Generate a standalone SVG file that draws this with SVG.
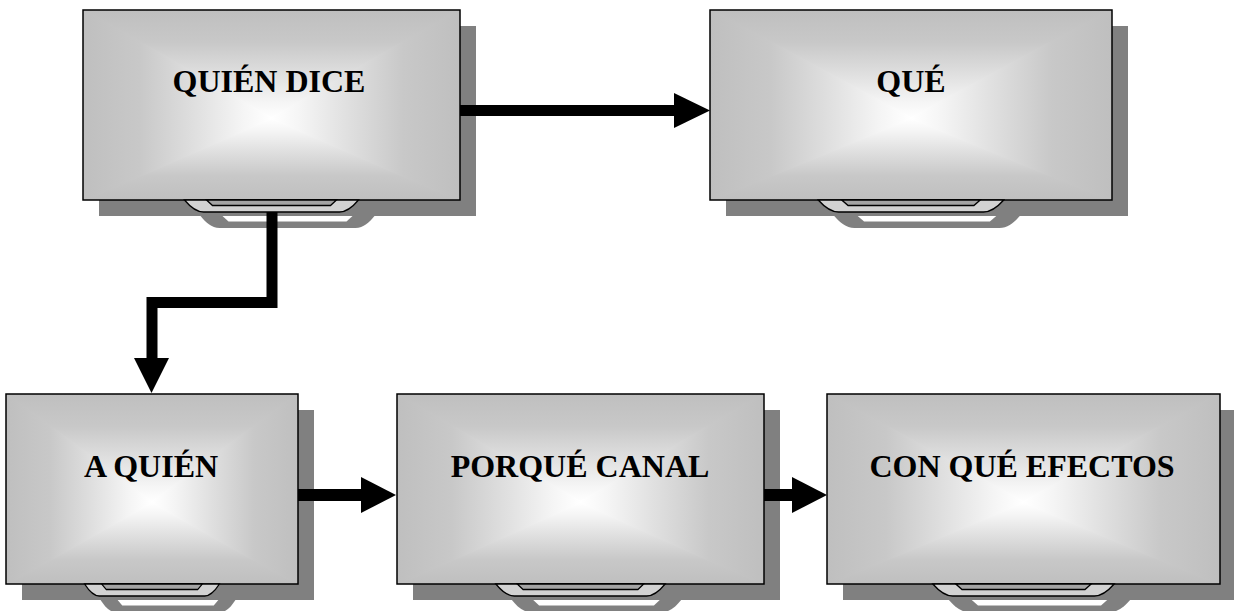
<svg xmlns="http://www.w3.org/2000/svg" xmlns:xlink="http://www.w3.org/1999/xlink" width="1234" height="611" viewBox="0 0 1234 611">
<style>
.shadow{fill:#808080}
.base{fill:#d0d0d0}
.frame{fill:none;stroke:#000;stroke-width:1.5}
.lbl{font-family:"Liberation Serif","Times New Roman",serif;font-weight:bold;font-size:32px;fill:#000;text-anchor:middle}
.so{fill:#808080}
.sh{fill:#fff}
.st-o{fill:#d2d2d2;stroke:#000;stroke-width:1.3;vector-effect:non-scaling-stroke}
.st-i{fill:#a4a4a4;stroke:#000;stroke-width:1.3;vector-effect:non-scaling-stroke}
.conn{fill:none;stroke:#000;stroke-linejoin:miter}
.head{fill:#000}
</style>
<defs>
<linearGradient id="gT" gradientUnits="userSpaceOnUse" x1="0" y1="0" x2="0" y2="57"><stop offset="0" stop-color="#bfbfbf"/><stop offset="0.3" stop-color="#c8c8c8"/><stop offset="0.6" stop-color="#e0e0e0"/><stop offset="0.85" stop-color="#f5f5f5"/><stop offset="1" stop-color="#ffffff"/></linearGradient>
<linearGradient id="gB" x1="0" y1="100" x2="0" y2="57" xlink:href="#gT"/>
<linearGradient id="gL" x1="0" y1="0" x2="50" y2="0" xlink:href="#gT"/>
<linearGradient id="gR" x1="100" y1="0" x2="50" y2="0" xlink:href="#gT"/>
<symbol id="panel" viewBox="0 0 100 100" preserveAspectRatio="none">
<path d="M0,0 L100,0 L50,57 Z" fill="url(#gT)"/>
<path d="M0,100 L100,100 L50,57 Z" fill="url(#gB)"/>
<path d="M0,-1 L50.6,57 L0,101 Z" fill="url(#gL)"/>
<path d="M100,-1 L49.4,57 L100,101 Z" fill="url(#gR)"/>
</symbol>
<path id="outer" d="M -87,0 C -82,6 -76,12 -68,12 L 68,12 C 76,12 82,6 87,0 Z"/>
<path id="inner" d="M -65,0 L -59,5.5 L 59,5.5 L 65,0 Z"/>
</defs>
<rect width="1234" height="611" fill="#fff"/>

<g id="node-quien-dice">
<rect class="shadow" x="99" y="26" width="377" height="190"/>
<g transform="translate(287.5,216) scale(1,1)"><use xlink:href="#outer" class="so"/><use xlink:href="#inner" class="sh"/></g>
<rect class="base" x="83" y="10" width="377" height="190"/>
<use xlink:href="#panel" x="83" y="10" width="377" height="190"/>
<rect class="frame" x="83" y="10" width="377" height="190"/>
<g transform="translate(271.5,200) scale(1,1)"><use xlink:href="#outer" class="st-o"/><use xlink:href="#inner" class="st-i"/></g>
<text class="lbl" x="269" y="92">QUIÉN DICE</text>
</g>

<g id="node-que">
<rect class="shadow" x="726" y="26" width="402" height="190"/>
<g transform="translate(927,216) scale(1.066,1)"><use xlink:href="#outer" class="so"/><use xlink:href="#inner" class="sh"/></g>
<rect class="base" x="710" y="10" width="402" height="190"/>
<use xlink:href="#panel" x="710" y="10" width="402" height="190"/>
<rect class="frame" x="710" y="10" width="402" height="190"/>
<g transform="translate(911,200) scale(1.066,1)"><use xlink:href="#outer" class="st-o"/><use xlink:href="#inner" class="st-i"/></g>
<text class="lbl" x="911" y="92">QUÉ</text>
</g>

<g id="node-a-quien">
<rect class="shadow" x="22" y="410" width="292" height="190"/>
<g transform="translate(168,600) scale(0.775,1)"><use xlink:href="#outer" class="so"/><use xlink:href="#inner" class="sh"/></g>
<rect class="base" x="6" y="394" width="292" height="190"/>
<use xlink:href="#panel" x="6" y="394" width="292" height="190"/>
<rect class="frame" x="6" y="394" width="292" height="190"/>
<g transform="translate(152,584) scale(0.775,1)"><use xlink:href="#outer" class="st-o"/><use xlink:href="#inner" class="st-i"/></g>
<text class="lbl" x="151" y="477">A QUIÉN</text>
</g>

<g id="node-porque-canal">
<rect class="shadow" x="413" y="410" width="367" height="190"/>
<g transform="translate(596.5,600) scale(0.973,1)"><use xlink:href="#outer" class="so"/><use xlink:href="#inner" class="sh"/></g>
<rect class="base" x="397" y="394" width="367" height="190"/>
<use xlink:href="#panel" x="397" y="394" width="367" height="190"/>
<rect class="frame" x="397" y="394" width="367" height="190"/>
<g transform="translate(580.5,584) scale(0.973,1)"><use xlink:href="#outer" class="st-o"/><use xlink:href="#inner" class="st-i"/></g>
<text class="lbl" x="580" y="477">PORQUÉ CANAL</text>
</g>

<g id="node-con-que-efectos">
<rect class="shadow" x="843" y="410" width="393" height="190"/>
<g transform="translate(1039.5,600) scale(1.042,1)"><use xlink:href="#outer" class="so"/><use xlink:href="#inner" class="sh"/></g>
<rect class="base" x="827" y="394" width="393" height="190"/>
<use xlink:href="#panel" x="827" y="394" width="393" height="190"/>
<rect class="frame" x="827" y="394" width="393" height="190"/>
<g transform="translate(1023.5,584) scale(1.042,1)"><use xlink:href="#outer" class="st-o"/><use xlink:href="#inner" class="st-i"/></g>
<text class="lbl" x="1022" y="477">CON QUÉ EFECTOS</text>
</g>

<g id="connectors">
<line class="conn" x1="460" y1="110.5" x2="676" y2="110.5" stroke-width="11"/>
<polygon class="head" points="674,93 710,110.5 674,128"/>
<path class="conn" d="M272,212 V302.5 H152 V360" stroke-width="11"/>
<polygon class="head" points="134,358 169,358 151.5,393"/>
<line class="conn" x1="298" y1="495" x2="363" y2="495" stroke-width="12"/>
<polygon class="head" points="361,477 396,495 361,513"/>
<line class="conn" x1="764" y1="495" x2="794" y2="495" stroke-width="12"/>
<polygon class="head" points="792,477 827,495 792,513"/>
</g>
</svg>
